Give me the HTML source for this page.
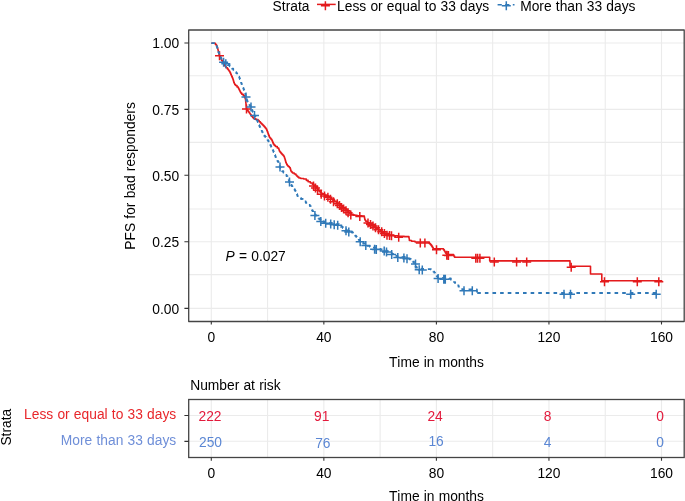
<!DOCTYPE html>
<html><head><meta charset="utf-8"><title>PFS plot</title>
<style>html,body{margin:0;padding:0;background:#fff;}body{width:685px;height:501px;overflow:hidden;}svg{display:block;will-change:transform;font-kerning:none;word-spacing:0.35px;}</style>
</head><body>
<svg width="685" height="501" viewBox="0 0 685 501" font-family='"Liberation Sans", sans-serif'><rect width="685" height="501" fill="#fff"/><path d="M211.30 30.0V321.5M267.58 30.0V321.5M323.85 30.0V321.5M380.12 30.0V321.5M436.40 30.0V321.5M492.68 30.0V321.5M548.95 30.0V321.5M605.23 30.0V321.5M661.50 30.0V321.5M188.7 308.40H684.2M188.7 274.60H684.2M188.7 241.80H684.2M188.7 209.00H684.2M188.7 175.20H684.2M188.7 142.40H684.2M188.7 109.40H684.2M188.7 75.70H684.2M188.7 43.00H684.2" stroke="#ebebeb" stroke-width="1.1" fill="none"/><polyline points="211.30,43.20 214.60,43.20 215.40,43.20 215.40,44.50 216.20,44.50 216.45,44.50 216.45,45.75 216.95,45.75 216.95,47.00 217.20,47.00 217.35,47.00 217.35,48.00 217.65,48.00 217.65,49.00 217.80,49.00 217.93,49.00 217.93,50.00 218.20,50.00 218.20,51.00 218.47,51.00 218.47,52.00 218.60,52.00 218.75,52.00 218.75,53.17 219.05,53.17 219.05,54.33 219.35,54.33 219.35,55.50 219.50,55.50 219.78,55.50 219.78,56.67 220.35,56.67 220.35,57.83 220.92,57.83 220.92,59.00 221.20,59.00 221.58,59.00 221.58,60.33 222.35,60.33 222.35,61.67 223.12,61.67 223.12,63.00 223.50,63.00 223.83,63.00 223.83,64.17 224.50,64.17 224.50,65.33 225.17,65.33 225.17,66.50 225.50,66.50 226.12,66.50 226.12,67.75 227.38,67.75 227.38,69.00 228.00,69.00 228.33,69.00 228.33,70.00 229.00,70.00 229.00,71.00 229.67,71.00 229.67,72.00 230.00,72.00 230.25,72.00 230.25,73.17 230.75,73.17 230.75,74.33 231.25,74.33 231.25,75.50 231.50,75.50 231.75,75.50 231.75,76.67 232.25,76.67 232.25,77.83 232.75,77.83 232.75,79.00 233.00,79.00 233.17,79.00 233.17,80.17 233.50,80.17 233.50,81.33 233.83,81.33 233.83,82.50 234.00,82.50 234.25,82.50 234.25,83.50 234.75,83.50 234.75,84.50 235.00,84.50 235.50,84.50 235.50,85.50 236.00,85.50 237.00,85.50 237.00,87.00 238.00,87.00 238.25,87.00 238.25,88.00 238.75,88.00 238.75,89.00 239.25,89.00 239.25,90.00 239.50,90.00 239.75,90.00 239.75,91.00 240.25,91.00 240.25,92.00 240.75,92.00 240.75,93.00 241.00,93.00 241.75,93.00 241.75,94.25 243.25,94.25 243.25,95.50 244.00,95.50 244.25,95.50 244.25,96.67 244.75,96.67 244.75,97.83 245.25,97.83 245.25,99.00 245.50,99.00 245.56,99.00 245.56,100.25 245.69,100.25 245.69,101.50 245.81,101.50 245.81,102.75 245.94,102.75 245.94,104.00 246.00,104.00 246.06,104.00 246.06,105.25 246.19,105.25 246.19,106.50 246.31,106.50 246.31,107.75 246.44,107.75 246.44,109.00 246.50,109.00 246.92,109.00 246.92,110.00 247.75,110.00 247.75,111.00 248.58,111.00 248.58,112.00 249.00,112.00 249.33,112.00 249.33,113.00 250.00,113.00 250.00,114.00 250.67,114.00 250.67,115.00 251.00,115.00 251.50,115.00 251.50,116.17 252.50,116.17 252.50,117.33 253.50,117.33 253.50,118.50 254.00,118.50 255.75,118.50 255.75,119.50 257.50,119.50 258.00,119.50 258.00,120.50 258.50,120.50 259.12,120.50 259.12,121.75 260.38,121.75 260.38,123.00 261.00,123.00 261.50,123.00 261.50,124.00 262.50,124.00 262.50,125.00 263.50,125.00 263.50,126.00 264.00,126.00 264.42,126.00 264.42,127.00 265.25,127.00 265.25,128.00 266.08,128.00 266.08,129.00 266.50,129.00 266.75,129.00 266.75,130.33 267.25,130.33 267.25,131.67 267.75,131.67 267.75,133.00 268.00,133.00 268.25,133.00 268.25,134.33 268.75,134.33 268.75,135.67 269.25,135.67 269.25,137.00 269.50,137.00 269.92,137.00 269.92,138.00 270.75,138.00 270.75,139.00 271.58,139.00 271.58,140.00 272.00,140.00 272.25,140.00 272.25,141.33 272.75,141.33 272.75,142.67 273.25,142.67 273.25,144.00 273.50,144.00 274.12,144.00 274.12,145.25 275.38,145.25 275.38,146.50 276.00,146.50 277.25,146.50 277.25,148.00 278.50,148.00 278.67,148.00 278.67,149.00 279.00,149.00 279.00,150.00 279.33,150.00 279.33,151.00 279.50,151.00 279.92,151.00 279.92,152.00 280.75,152.00 280.75,153.00 281.58,153.00 281.58,154.00 282.00,154.00 282.50,154.00 282.50,155.00 283.50,155.00 283.50,156.00 284.00,156.00 284.17,156.00 284.17,157.00 284.50,157.00 284.50,158.00 284.83,158.00 284.83,159.00 285.00,159.00 285.17,159.00 285.17,160.17 285.50,160.17 285.50,161.33 285.83,161.33 285.83,162.50 286.00,162.50 286.25,162.50 286.25,163.50 286.75,163.50 286.75,164.50 287.25,164.50 287.25,165.50 287.50,165.50 288.12,165.50 288.12,166.50 289.38,166.50 289.38,167.50 290.00,167.50 290.17,167.50 290.17,168.67 290.50,168.67 290.50,169.83 290.83,169.83 290.83,171.00 291.00,171.00 291.50,171.00 291.50,172.00 292.50,172.00 292.50,173.00 293.00,173.00 294.25,173.00 294.25,174.00 295.50,174.00 295.88,174.00 295.88,175.00 296.62,175.00 296.62,176.00 297.00,176.00 297.62,176.00 297.62,177.00 298.88,177.00 298.88,178.00 299.50,178.00 300.75,178.00 300.75,178.50 302.00,178.50 303.70,178.50 303.70,179.00 305.40,179.00 306.30,179.00 306.30,180.35 308.10,180.35 308.10,181.70 309.00,181.70 310.35,181.70 310.35,183.00 311.70,183.00 312.38,183.00 312.38,184.15 313.72,184.15 313.72,185.30 314.40,185.30 315.05,185.30 315.05,186.65 316.35,186.65 316.35,188.00 317.00,188.00 317.45,188.00 317.45,189.17 318.35,189.17 318.35,190.33 319.25,190.33 319.25,191.50 319.70,191.50 320.38,191.50 320.38,192.65 321.72,192.65 321.72,193.80 322.40,193.80 324.20,193.80 324.20,195.10 326.00,195.10 327.35,195.10 327.35,196.00 328.70,196.00 329.15,196.00 329.15,196.90 330.05,196.90 330.05,197.80 330.50,197.80 331.18,197.80 331.18,198.95 332.52,198.95 332.52,200.10 333.20,200.10 334.55,200.10 334.55,201.40 335.90,201.40 336.57,201.40 336.57,202.30 337.93,202.30 337.93,203.20 338.60,203.20 339.28,203.20 339.28,204.55 340.62,204.55 340.62,205.90 341.30,205.90 341.98,205.90 341.98,206.80 343.32,206.80 343.32,207.70 344.00,207.70 344.68,207.70 344.68,208.80 346.02,208.80 346.02,209.90 346.70,209.90 347.25,209.90 347.25,210.97 348.35,210.97 348.35,212.03 349.45,212.03 349.45,213.10 350.00,213.10 351.10,213.10 351.10,214.20 353.30,214.20 353.30,215.30 354.40,215.30 357.10,215.30 357.10,215.80 359.80,215.80 362.00,215.80 362.00,216.00 364.20,216.00 364.32,216.00 364.32,217.17 364.55,217.17 364.55,218.33 364.78,218.33 364.78,219.50 364.90,219.50 365.17,219.50 365.17,220.40 365.73,220.40 365.73,221.30 366.00,221.30 367.35,221.30 367.35,222.80 368.70,222.80 369.60,222.80 369.60,223.85 371.40,223.85 371.40,224.90 372.30,224.90 373.20,224.90 373.20,226.10 375.00,226.10 375.00,227.30 375.90,227.30 376.80,227.30 376.80,228.50 378.60,228.50 378.60,229.70 379.50,229.70 380.40,229.70 380.40,230.90 382.20,230.90 382.20,232.10 383.10,232.10 384.00,232.10 384.00,233.30 385.80,233.30 385.80,234.50 386.70,234.50 389.10,234.50 389.10,235.10 391.50,235.10 393.90,235.10 393.90,235.80 396.30,235.80 398.05,235.80 398.05,236.40 399.80,236.40 404.30,236.40 404.30,236.60 408.80,236.60 408.92,236.60 408.92,237.90 409.15,237.90 409.15,239.20 409.38,239.20 409.38,240.50 409.50,240.50 411.55,240.50 411.55,241.30 413.60,241.30 415.05,241.30 415.05,242.00 416.50,242.00 428.50,242.00 429.25,242.00 429.25,243.60 430.00,243.60 430.50,243.60 430.50,244.85 431.50,244.85 431.50,246.10 432.00,246.10 432.38,246.10 432.38,247.40 433.12,247.40 433.12,248.70 433.50,248.70 443.00,248.70 443.45,248.70 443.45,249.85 444.35,249.85 444.35,251.00 444.80,251.00 444.98,251.00 444.98,251.90 445.32,251.90 445.32,252.80 445.50,252.80 445.93,252.80 445.93,253.70 446.77,253.70 446.77,254.60 447.20,254.60 453.20,254.60 453.65,254.60 453.65,255.95 454.55,255.95 454.55,257.30 455.00,257.30 489.70,257.30 489.70,260.90 570.00,260.90 570.00,266.30 590.50,266.30 590.50,274.00 601.80,274.00 601.80,280.80 662.30,280.80" stroke="#e41a1c" stroke-width="1.6" fill="none" stroke-linejoin="round"/><path d="M215.00 55.80h9.00M219.50 51.30v9.00M242.00 109.00h9.00M246.50 104.50v9.00M309.00 186.03h9.00M313.50 181.53v9.00M311.00 187.94h9.00M315.50 183.44v9.00M313.10 190.28h9.00M317.60 185.78v9.00M316.70 194.28h9.00M321.20 189.78v9.00M320.00 196.06h9.00M324.50 191.56v9.00M323.40 197.23h9.00M327.90 192.73v9.00M326.00 199.30h9.00M330.50 194.80v9.00M329.00 201.74h9.00M333.50 197.24v9.00M332.80 203.83h9.00M337.30 199.33v9.00M335.00 205.60h9.00M339.50 201.10v9.00M337.00 207.53h9.00M341.50 203.03v9.00M339.10 208.93h9.00M343.60 204.43v9.00M341.50 210.83h9.00M346.00 206.33v9.00M343.60 212.76h9.00M348.10 208.26v9.00M346.30 215.00h9.00M350.80 210.50v9.00M355.30 216.40h9.00M359.80 211.90v9.00M363.50 223.01h9.00M368.00 218.51v9.00M366.00 224.45h9.00M370.50 219.95v9.00M368.50 225.97h9.00M373.00 221.47v9.00M371.00 227.63h9.00M375.50 223.13v9.00M374.00 229.63h9.00M378.50 225.13v9.00M377.20 231.77h9.00M381.70 227.27v9.00M379.90 233.57h9.00M384.40 229.07v9.00M382.50 235.14h9.00M387.00 230.64v9.00M385.00 235.45h9.00M389.50 230.95v9.00M387.00 235.70h9.00M391.50 231.20v9.00M394.20 237.21h9.00M398.70 232.71v9.00M415.80 243.00h9.00M420.30 238.50v9.00M420.40 243.00h9.00M424.90 238.50v9.00M432.00 249.70h9.00M436.50 245.20v9.00M442.30 255.18h9.00M446.80 250.68v9.00M443.90 255.60h9.00M448.40 251.10v9.00M471.30 258.30h9.00M475.80 253.80v9.00M473.10 258.30h9.00M477.60 253.80v9.00M475.40 258.30h9.00M479.90 253.80v9.00M489.80 261.90h9.00M494.30 257.40v9.00M512.10 261.90h9.00M516.60 257.40v9.00M522.20 261.90h9.00M526.70 257.40v9.00M566.70 267.30h9.00M571.20 262.80v9.00M600.00 281.80h9.00M604.50 277.30v9.00M632.80 281.80h9.00M637.30 277.30v9.00M654.30 281.80h9.00M658.80 277.30v9.00" stroke="#e41a1c" stroke-width="1.5" fill="none"/><polyline points="211.30,43.20 215.00,43.20 215.50,43.20 215.50,44.50 216.00,44.50 216.25,44.50 216.25,45.67 216.75,45.67 216.75,46.83 217.25,46.83 217.25,48.00 217.50,48.00 217.58,48.00 217.58,49.00 217.75,49.00 217.75,50.00 217.92,50.00 217.92,51.00 218.00,51.00 218.25,51.00 218.25,52.00 218.75,52.00 218.75,53.00 219.25,53.00 219.25,54.00 219.50,54.00 219.69,54.00 219.69,55.00 220.06,55.00 220.06,56.00 220.44,56.00 220.44,57.00 220.81,57.00 220.81,58.00 221.00,58.00 221.38,58.00 221.38,59.12 222.12,59.12 222.12,60.25 222.88,60.25 222.88,61.38 223.62,61.38 223.62,62.50 224.00,62.50 225.25,62.50 225.25,64.00 226.50,64.00 227.75,64.00 227.75,65.00 229.00,65.00 229.62,65.00 229.62,66.25 230.88,66.25 230.88,67.50 231.50,67.50 232.08,67.50 232.08,68.67 233.25,68.67 233.25,69.83 234.42,69.83 234.42,71.00 235.00,71.00 235.44,71.00 235.44,72.12 236.31,72.12 236.31,73.25 237.19,73.25 237.19,74.38 238.06,74.38 238.06,75.50 238.50,75.50 238.75,75.50 238.75,76.67 239.25,76.67 239.25,77.83 239.75,77.83 239.75,79.00 240.00,79.00 240.12,79.00 240.12,80.00 240.38,80.00 240.38,81.00 240.50,81.00 240.70,81.00 240.70,82.00 241.10,82.00 241.10,83.00 241.50,83.00 241.50,84.00 241.90,84.00 241.90,85.00 242.30,85.00 242.30,86.00 242.50,86.00 242.70,86.00 242.70,87.00 243.10,87.00 243.10,88.00 243.50,88.00 243.50,89.00 243.90,89.00 243.90,90.00 244.30,90.00 244.30,91.00 244.50,91.00 244.62,91.00 244.62,92.00 244.88,92.00 244.88,93.00 245.12,93.00 245.12,94.00 245.38,94.00 245.38,95.00 245.62,95.00 245.62,96.00 245.88,96.00 245.88,97.00 246.00,97.00 246.19,97.00 246.19,98.12 246.56,98.12 246.56,99.25 246.94,99.25 246.94,100.38 247.31,100.38 247.31,101.50 247.50,101.50 247.85,101.50 247.85,102.60 248.55,102.60 248.55,103.70 249.25,103.70 249.25,104.80 249.95,104.80 249.95,105.90 250.65,105.90 250.65,107.00 251.00,107.00 251.19,107.00 251.19,108.00 251.56,108.00 251.56,109.00 251.94,109.00 251.94,110.00 252.31,110.00 252.31,111.00 252.50,111.00 252.75,111.00 252.75,112.12 253.25,112.12 253.25,113.25 253.75,113.25 253.75,114.38 254.25,114.38 254.25,115.50 254.50,115.50 254.81,115.50 254.81,116.62 255.44,116.62 255.44,117.75 256.06,117.75 256.06,118.88 256.69,118.88 256.69,120.00 257.00,120.00 257.25,120.00 257.25,121.00 257.75,121.00 257.75,122.00 258.00,122.00 258.19,122.00 258.19,123.00 258.56,123.00 258.56,124.00 258.94,124.00 258.94,125.00 259.31,125.00 259.31,126.00 259.50,126.00 259.75,126.00 259.75,127.00 260.25,127.00 260.25,128.00 260.75,128.00 260.75,129.00 261.25,129.00 261.25,130.00 261.50,130.00 261.75,130.00 261.75,131.12 262.25,131.12 262.25,132.25 262.75,132.25 262.75,133.38 263.25,133.38 263.25,134.50 263.50,134.50 264.00,134.50 264.00,135.67 265.00,135.67 265.00,136.83 266.00,136.83 266.00,138.00 266.50,138.00 266.88,138.00 266.88,139.12 267.62,139.12 267.62,140.25 268.38,140.25 268.38,141.38 269.12,141.38 269.12,142.50 269.50,142.50 269.75,142.50 269.75,143.75 270.25,143.75 270.25,145.00 270.50,145.00 270.75,145.00 270.75,146.00 271.25,146.00 271.25,147.00 271.75,147.00 271.75,148.00 272.25,148.00 272.25,149.00 272.50,149.00 272.70,149.00 272.70,150.00 273.10,150.00 273.10,151.00 273.50,151.00 273.50,152.00 273.90,152.00 273.90,153.00 274.30,153.00 274.30,154.00 274.50,154.00 274.70,154.00 274.70,155.00 275.10,155.00 275.10,156.00 275.50,156.00 275.50,157.00 275.90,157.00 275.90,158.00 276.30,158.00 276.30,159.00 276.50,159.00 276.81,159.00 276.81,160.00 277.44,160.00 277.44,161.00 278.06,161.00 278.06,162.00 278.69,162.00 278.69,163.00 279.00,163.00 279.12,163.00 279.12,164.00 279.38,164.00 279.38,165.00 279.62,165.00 279.62,166.00 279.88,166.00 279.88,167.00 280.00,167.00 280.25,167.00 280.25,168.00 280.75,168.00 280.75,169.00 281.25,169.00 281.25,170.00 281.50,170.00 282.12,170.00 282.12,171.25 283.38,171.25 283.38,172.50 284.00,172.50 284.50,172.50 284.50,173.67 285.50,173.67 285.50,174.83 286.50,174.83 286.50,176.00 287.00,176.00 287.38,176.00 287.38,177.25 288.12,177.25 288.12,178.50 288.50,178.50 288.67,178.50 288.67,179.67 289.00,179.67 289.00,180.83 289.33,180.83 289.33,182.00 289.50,182.00 289.81,182.00 289.81,183.00 290.44,183.00 290.44,184.00 291.06,184.00 291.06,185.00 291.69,185.00 291.69,186.00 292.00,186.00 292.38,186.00 292.38,187.00 293.12,187.00 293.12,188.00 293.88,188.00 293.88,189.00 294.62,189.00 294.62,190.00 295.00,190.00 295.25,190.00 295.25,191.00 295.75,191.00 295.75,192.00 296.25,192.00 296.25,193.00 296.50,193.00 296.69,193.00 296.69,194.00 297.06,194.00 297.06,195.00 297.44,195.00 297.44,196.00 297.81,196.00 297.81,197.00 298.00,197.00 299.00,197.00 299.00,198.00 301.00,198.00 301.00,199.00 302.00,199.00 302.75,199.00 302.75,200.25 304.25,200.25 304.25,201.50 305.00,201.50 305.75,201.50 305.75,202.75 307.25,202.75 307.25,204.00 308.00,204.00 308.62,204.00 308.62,205.00 309.88,205.00 309.88,206.00 310.50,206.00 310.67,206.00 310.67,207.00 311.00,207.00 311.00,208.00 311.33,208.00 311.33,209.00 311.50,209.00 311.85,209.00 311.85,210.10 312.55,210.10 312.55,211.20 313.25,211.20 313.25,212.30 313.95,212.30 313.95,213.40 314.65,213.40 314.65,214.50 315.00,214.50 315.50,214.50 315.50,215.50 316.50,215.50 316.50,216.50 317.50,216.50 317.50,217.50 318.50,217.50 318.50,218.50 319.50,218.50 319.50,219.50 320.00,219.50 320.75,219.50 320.75,221.00 321.50,221.00 323.50,221.00 323.50,222.00 325.50,222.00 327.75,222.00 327.75,222.80 330.00,222.80 332.00,222.80 332.00,223.50 334.00,223.50 336.00,223.50 336.00,224.20 338.00,224.20 339.00,224.20 339.00,225.50 340.00,225.50 340.90,225.50 340.90,226.75 342.70,226.75 342.70,228.00 343.60,228.00 344.50,228.00 344.50,229.15 346.30,229.15 346.30,230.30 347.20,230.30 349.30,230.30 349.30,231.50 351.40,231.50 351.92,231.50 351.92,232.55 352.98,232.55 352.98,233.60 354.02,233.60 354.02,234.65 355.08,234.65 355.08,235.70 355.60,235.70 356.05,235.70 356.05,236.75 356.95,236.75 356.95,237.80 357.85,237.80 357.85,238.85 358.75,238.85 358.75,239.90 359.20,239.90 360.00,239.90 360.00,241.10 361.60,241.10 361.60,242.30 363.20,242.30 363.20,243.50 364.00,243.50 365.18,243.50 365.18,244.70 367.52,244.70 367.52,245.90 368.70,245.90 369.90,245.90 369.90,246.80 372.30,246.80 372.30,247.70 373.50,247.70 375.90,247.70 375.90,248.90 378.30,248.90 380.70,248.90 380.70,249.50 383.10,249.50 384.05,249.50 384.05,250.20 385.00,250.20 386.52,250.20 386.52,251.50 389.58,251.50 389.58,252.80 391.10,252.80 391.78,252.80 391.78,253.80 393.15,253.80 393.15,254.80 394.52,254.80 394.52,255.80 395.20,255.80 397.25,255.80 397.25,256.40 399.30,256.40 402.35,256.40 402.35,256.90 405.40,256.90 407.20,256.90 407.20,258.40 409.00,258.40 409.77,258.40 409.77,259.40 411.33,259.40 411.33,260.40 412.10,260.40 412.73,260.40 412.73,261.70 413.98,261.70 413.98,263.00 414.60,263.00 414.78,263.00 414.78,264.20 415.15,264.20 415.15,265.40 415.52,265.40 415.52,266.60 415.70,266.60 416.45,266.60 416.45,267.60 417.95,267.60 417.95,268.60 418.70,268.60 421.25,268.60 421.25,269.00 423.80,269.00 426.90,269.00 426.90,269.20 430.00,269.20 431.00,269.20 431.00,269.60 432.00,269.60 432.50,269.60 432.50,270.65 433.50,270.65 433.50,271.70 434.00,271.70 434.35,271.70 434.35,272.70 435.05,272.70 435.05,273.70 435.75,273.70 435.75,274.70 436.10,274.70 436.60,274.70 436.60,276.00 437.60,276.00 437.60,277.30 438.10,277.30 440.15,277.30 440.15,277.80 442.20,277.80 445.30,277.80 445.30,278.30 448.40,278.30 449.20,278.30 449.20,278.40 450.00,278.40 450.88,278.40 450.88,279.70 452.62,279.70 452.62,281.00 453.50,281.00 454.05,281.00 454.05,282.10 455.15,282.10 455.15,283.20 456.25,283.20 456.25,284.30 457.35,284.30 457.35,285.40 457.90,285.40 458.55,285.40 458.55,286.70 459.85,286.70 459.85,288.00 460.50,288.00 462.25,288.00 462.25,289.50 464.00,289.50 476.80,289.50 476.87,289.50 476.87,290.67 477.00,290.67 477.00,291.83 477.13,291.83 477.13,293.00 477.20,293.00" stroke="#3079b8" stroke-width="1.8" fill="none" stroke-dasharray="3.6 4.03" stroke-linejoin="round"/><polyline points="477.20,293.00 660.30,293.00" stroke="#3079b8" stroke-width="1.8" fill="none" stroke-dasharray="3.6 4.03" stroke-dashoffset="-0.02"/><path d="M219.10 62.30h9.00M223.60 57.80v9.00M221.30 63.80h9.00M225.80 59.30v9.00M241.50 97.00h9.00M246.00 92.50v9.00M246.50 107.00h9.00M251.00 102.50v9.00M250.00 115.50h9.00M254.50 111.00v9.00M275.50 167.00h9.00M280.00 162.50v9.00M285.00 182.00h9.00M289.50 177.50v9.00M411.00 264.00h9.00M415.50 259.50v9.00M310.40 215.54h9.00M314.90 211.04v9.00M316.30 221.50h9.00M320.80 217.00v9.00M321.20 223.24h9.00M325.70 218.74v9.00M326.20 224.12h9.00M330.70 219.62v9.00M329.70 224.73h9.00M334.20 220.23v9.00M333.20 225.35h9.00M337.70 220.85v9.00M341.50 230.73h9.00M346.00 226.23v9.00M344.30 231.96h9.00M348.80 227.46v9.00M355.70 241.85h9.00M360.20 237.35v9.00M361.30 245.62h9.00M365.80 241.12v9.00M370.10 249.17h9.00M374.60 244.67v9.00M371.80 249.60h9.00M376.30 245.10v9.00M379.70 251.11h9.00M384.20 246.61v9.00M382.00 252.04h9.00M386.50 247.54v9.00M387.20 254.44h9.00M391.70 249.94v9.00M393.30 257.38h9.00M397.80 252.88v9.00M399.40 257.98h9.00M403.90 253.48v9.00M402.50 258.77h9.00M407.00 254.27v9.00M414.70 269.84h9.00M419.20 265.34v9.00M417.80 270.08h9.00M422.30 265.58v9.00M433.60 278.50h9.00M438.10 274.00v9.00M439.30 279.13h9.00M443.80 274.63v9.00M440.80 279.25h9.00M445.30 274.75v9.00M459.50 290.70h9.00M464.00 286.20v9.00M467.80 290.70h9.00M472.30 286.20v9.00M559.50 294.20h9.00M564.00 289.70v9.00M566.00 294.20h9.00M570.50 289.70v9.00M626.20 294.20h9.00M630.70 289.70v9.00M651.70 294.20h9.00M656.20 289.70v9.00" stroke="#3079b8" stroke-width="1.5" fill="none"/><rect x="188.7" y="30.0" width="495.50" height="291.50" stroke="#444444" stroke-width="1.3" fill="none" stroke-linejoin="round"/><path d="M184.40 308.40H188.7M184.40 241.80H188.7M184.40 175.20H188.7M184.40 109.40H188.7M184.40 43.00H188.7M211.30 321.5V324.50M323.85 321.5V324.50M436.40 321.5V324.50M548.95 321.5V324.50M661.50 321.5V324.50" stroke="#333333" stroke-width="1.1" fill="none"/><text x="179.2" y="313.70" font-size="13.8" text-anchor="end" fill="#000">0.00</text><text x="179.2" y="247.10" font-size="13.8" text-anchor="end" fill="#000">0.25</text><text x="179.2" y="180.50" font-size="13.8" text-anchor="end" fill="#000">0.50</text><text x="179.2" y="114.70" font-size="13.8" text-anchor="end" fill="#000">0.75</text><text x="179.2" y="48.30" font-size="13.8" text-anchor="end" fill="#000">1.00</text><text x="211.30" y="342.1" font-size="13.8" text-anchor="middle" fill="#000">0</text><text x="323.85" y="342.1" font-size="13.8" text-anchor="middle" fill="#000">40</text><text x="436.40" y="342.1" font-size="13.8" text-anchor="middle" fill="#000">80</text><text x="548.95" y="342.1" font-size="13.8" text-anchor="middle" fill="#000">120</text><text x="661.50" y="342.1" font-size="13.8" text-anchor="middle" fill="#000">160</text><text x="436.4" y="367.4" font-size="13.8" text-anchor="middle" fill="#000">Time in months</text><text transform="translate(135.3 175.9) rotate(-90)" font-size="13.8" text-anchor="middle" fill="#000">PFS for bad responders</text><text x="225.6" y="260.8" font-size="13.8" fill="#000"><tspan font-style="italic">P</tspan> = 0.027</text><text x="272.6" y="11.1" font-size="13.8" fill="#000">Strata</text><path d="M317 4.4H335.7" stroke="#e41a1c" stroke-width="1.5"/><path d="M320.90 5.70h9.00M325.40 1.20v9.00" stroke="#e41a1c" stroke-width="1.5" fill="none"/><path d="M497.6 4.7H514.5" stroke="#3079b8" stroke-width="1.5" stroke-dasharray="4.2 3.4"/><path d="M501.80 5.70h9.00M506.30 1.20v9.00" stroke="#3079b8" stroke-width="1.5" fill="none"/><text x="337.1" y="11.1" font-size="13.8" fill="#000">Less or equal to 33 days</text><text x="520.2" y="11.1" font-size="13.8" fill="#000">More than 33 days</text><text x="190.2" y="389.6" font-size="13.8" fill="#000">Number at risk</text><path d="M211.30 399.5V457.5M267.58 399.5V457.5M323.85 399.5V457.5M380.12 399.5V457.5M436.40 399.5V457.5M492.68 399.5V457.5M548.95 399.5V457.5M605.23 399.5V457.5M661.50 399.5V457.5M188.7 415.5H684.2M188.7 441.3H684.2" stroke="#ebebeb" stroke-width="1.1" fill="none"/><rect x="188.7" y="399.5" width="495.50" height="58.00" stroke="#444444" stroke-width="1.3" fill="none"/><path d="M184.40 415.5H188.7M184.40 441.4H188.7M211.30 457.5V460.70M323.85 457.5V460.70M436.40 457.5V460.70M548.95 457.5V460.70M661.50 457.5V460.70" stroke="#333333" stroke-width="1.1" fill="none"/><text x="210.00" y="421.0" font-size="13.8" text-anchor="middle" fill="#e31a3c">222</text><text x="321.75" y="421.0" font-size="13.8" text-anchor="middle" fill="#e31a3c">91</text><text x="435.10" y="421.0" font-size="13.8" text-anchor="middle" fill="#e31a3c">24</text><text x="547.65" y="421.0" font-size="13.8" text-anchor="middle" fill="#e31a3c">8</text><text x="660.20" y="421.0" font-size="13.8" text-anchor="middle" fill="#e31a3c">0</text><text x="210.50" y="447.2" font-size="13.8" text-anchor="middle" fill="#5b87d4">250</text><text x="322.85" y="447.6" font-size="13.8" text-anchor="middle" fill="#5b87d4">76</text><text x="436.10" y="446.3" font-size="13.8" text-anchor="middle" fill="#5b87d4">16</text><text x="547.65" y="447.4" font-size="13.8" text-anchor="middle" fill="#5b87d4">4</text><text x="660.20" y="446.6" font-size="13.8" text-anchor="middle" fill="#5b87d4">0</text><text x="176.2" y="418.6" font-size="13.8" text-anchor="end" fill="#e8272b">Less or equal to 33 days</text><text x="176.2" y="444.5" font-size="13.8" text-anchor="end" fill="#6f8fd8">More than 33 days</text><text transform="translate(10.9 427.2) rotate(-90)" font-size="13.8" text-anchor="middle" fill="#000">Strata</text><text x="211.30" y="478.3" font-size="13.8" text-anchor="middle" fill="#000">0</text><text x="323.85" y="478.3" font-size="13.8" text-anchor="middle" fill="#000">40</text><text x="436.40" y="478.3" font-size="13.8" text-anchor="middle" fill="#000">80</text><text x="548.95" y="478.3" font-size="13.8" text-anchor="middle" fill="#000">120</text><text x="661.50" y="478.3" font-size="13.8" text-anchor="middle" fill="#000">160</text><text x="436.4" y="501.2" font-size="13.8" text-anchor="middle" fill="#000">Time in months</text></svg>
</body></html>
